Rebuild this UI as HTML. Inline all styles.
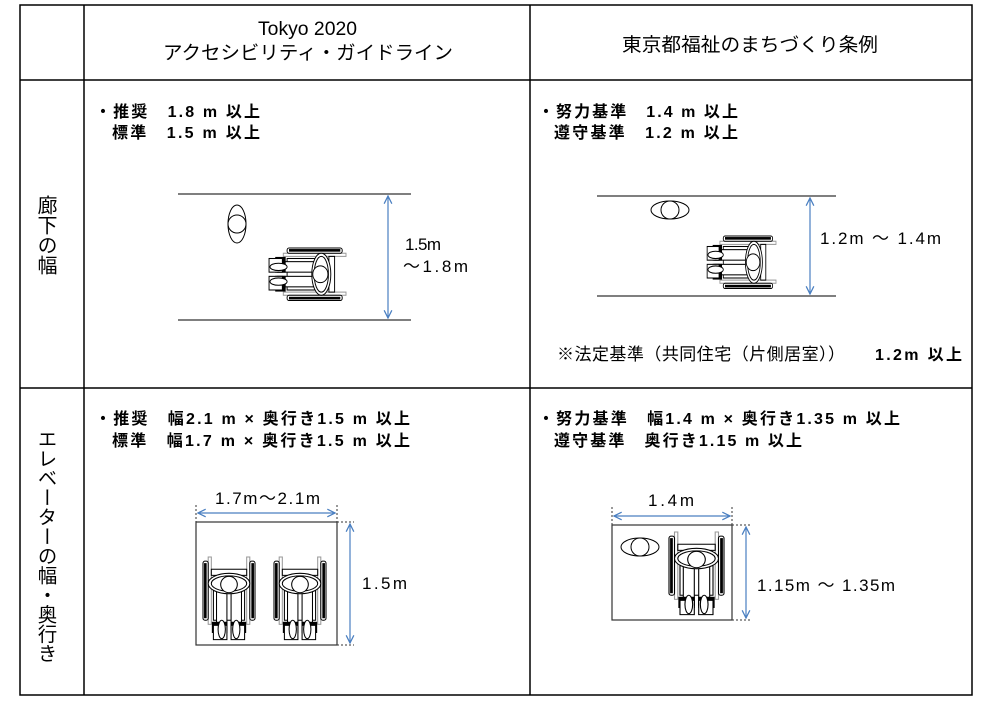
<!DOCTYPE html>
<html><head><meta charset="utf-8"><style>
html,body{margin:0;padding:0;background:#fff;}
svg{display:block;}
text{font-family:"Liberation Sans","Noto Sans CJK JP",sans-serif;fill:#000;}
.b{font-weight:bold;font-size:16px;}
.n{font-size:17px;}
</style></head><body>
<svg width="1000" height="708" viewBox="0 0 1000 708" xmlns="http://www.w3.org/2000/svg">
<defs>
<marker id="ar" viewBox="0 0 10 10" refX="9" refY="5" markerWidth="8" markerHeight="8" orient="auto-start-reverse">
<path d="M1,1 L9,5 L1,9" fill="none" stroke="#4a7fc1" stroke-width="1.3"/></marker>
<g id="wc" stroke="#000" fill="#fff" stroke-width="1">
<rect x="5" y="0" width="3" height="66" fill="#fff" stroke="#999"/>
<rect x="42" y="0" width="3" height="66" fill="#fff" stroke="#999"/>
<rect x="0" y="4" width="5" height="58" rx="2" fill="#fff"/>
<rect x="1" y="6" width="2.5" height="54" fill="#000" stroke="none"/>
<rect x="45" y="4" width="5" height="58" rx="2" fill="#fff"/>
<rect x="46.5" y="6" width="2.5" height="54" fill="#000" stroke="none"/>
<rect x="8" y="12" width="34" height="6"/>
<rect x="10" y="30" width="30" height="32"/>
<rect x="13" y="34" width="10" height="38"/>
<rect x="27" y="34" width="10" height="38"/>
<rect x="9" y="64" width="14" height="10" fill="#000"/>
<rect x="27" y="64" width="14" height="10" fill="#000"/>
<rect x="10" y="67" width="13" height="14"/>
<rect x="27" y="67" width="13" height="14"/>
<ellipse cx="18" cy="71" rx="3.5" ry="9"/>
<ellipse cx="32" cy="71" rx="3.5" ry="9"/>
<ellipse cx="25" cy="26" rx="20" ry="10"/>
<ellipse cx="25" cy="26" rx="17" ry="7.5"/>
<circle cx="25" cy="27" r="8"/>
</g>
<g id="ps" stroke="#000" fill="#fff" stroke-width="1">
<ellipse cx="0" cy="0" rx="9" ry="19"/>
<circle cx="0" cy="0" r="9"/>
</g>
</defs>
<g stroke="#000" stroke-width="1.5" fill="none">
<rect x="20" y="5" width="952" height="690"/>
<line x1="84" y1="5" x2="84" y2="695"/>
<line x1="530" y1="5" x2="530" y2="695"/>
<line x1="20" y1="80" x2="972" y2="80"/>
<line x1="20" y1="388" x2="972" y2="388"/>
</g>
<text x="258" y="35" font-size="19" textLength="99" lengthAdjust="spacingAndGlyphs">Tokyo 2020</text>
<text x="163" y="59" font-size="19" textLength="290" lengthAdjust="spacingAndGlyphs">アクセシビリティ・ガイドライン</text>
<text x="622" y="51" font-size="19" textLength="256" lengthAdjust="spacingAndGlyphs">東京都福祉のまちづくり条例</text>
<text x="45" y="195" font-size="20" style="writing-mode:vertical-rl">廊下の幅</text>
<text x="45" y="429" font-size="19.5" style="writing-mode:vertical-rl">エレベーターの幅・奥行き</text>

<text class="b" x="95" y="117" textLength="165" lengthAdjust="spacing">・推奨　1.8 m 以上</text>
<text class="b" x="112" y="138" textLength="148" lengthAdjust="spacing">標準　1.5 m 以上</text>
<g stroke="#333" stroke-width="1.3"><line x1="178" y1="194" x2="411" y2="194"/><line x1="178" y1="320" x2="411" y2="320"/></g>
<line x1="388" y1="196" x2="388" y2="318" stroke="#4a7fc1" stroke-width="1.2" marker-start="url(#ar)" marker-end="url(#ar)"/>
<text class="n" x="405" y="250" textLength="36" lengthAdjust="spacing">1.5m</text>
<text class="n" x="403" y="272" textLength="65" lengthAdjust="spacing">～1.8m</text>
<use href="#ps" transform="translate(237,224)"/>
<use href="#wc" transform="translate(346,248) rotate(90) scale(1.05,0.95)"/>

<text class="b" x="538" y="117" textLength="200" lengthAdjust="spacing">・努力基準　1.4 m 以上</text>
<text class="b" x="554" y="138" textLength="184" lengthAdjust="spacing">遵守基準　1.2 m 以上</text>
<g stroke="#333" stroke-width="1.3"><line x1="597" y1="196" x2="836" y2="196"/><line x1="597" y1="296" x2="836" y2="296"/></g>
<line x1="810" y1="198" x2="810" y2="294" stroke="#4a7fc1" stroke-width="1.2" marker-start="url(#ar)" marker-end="url(#ar)"/>
<text class="n" x="820" y="244" textLength="121" lengthAdjust="spacing">1.2m ～ 1.4m</text>
<use href="#ps" transform="translate(670,210) rotate(90)"/>
<use href="#wc" transform="translate(776,236) rotate(90) scale(1.05,0.85)"/>
<text x="557" y="360" font-size="17" textLength="288" lengthAdjust="spacing">※法定基準（共同住宅（片側居室））</text>
<text class="b" x="875" y="360" textLength="87" lengthAdjust="spacing">1.2m 以上</text>

<text class="b" x="95" y="424" textLength="315" lengthAdjust="spacing">・推奨　幅2.1 m × 奥行き1.5 m 以上</text>
<text class="b" x="112" y="446" textLength="298" lengthAdjust="spacing">標準　幅1.7 m × 奥行き1.5 m 以上</text>
<rect x="196" y="522" width="141" height="123" fill="none" stroke="#333" stroke-width="1.2"/>
<g stroke="#333" stroke-dasharray="2,2" stroke-width="1"><line x1="196" y1="505" x2="196" y2="522"/><line x1="337" y1="505" x2="337" y2="522"/><line x1="337" y1="522" x2="354" y2="522"/><line x1="337" y1="645" x2="354" y2="645"/></g>
<line x1="198" y1="513" x2="335" y2="513" stroke="#4a7fc1" stroke-width="1.2" marker-start="url(#ar)" marker-end="url(#ar)"/>
<line x1="350" y1="524" x2="350" y2="643" stroke="#4a7fc1" stroke-width="1.2" marker-start="url(#ar)" marker-end="url(#ar)"/>
<text class="n" x="215" y="504" textLength="105" lengthAdjust="spacing">1.7m～2.1m</text>
<text class="n" x="362" y="589" textLength="45" lengthAdjust="spacing">1.5m</text>
<use href="#wc" transform="translate(203,557) scale(1.04,1.02)"/>
<use href="#wc" transform="translate(274,557) scale(1.04,1.02)"/>

<text class="b" x="538" y="424" textLength="362" lengthAdjust="spacing">・努力基準　幅1.4 m × 奥行き1.35 m 以上</text>
<text class="b" x="554" y="446" textLength="248" lengthAdjust="spacing">遵守基準　奥行き1.15 m 以上</text>
<rect x="612" y="525" width="120" height="95" fill="none" stroke="#333" stroke-width="1.2"/>
<g stroke="#333" stroke-dasharray="2,2" stroke-width="1"><line x1="612" y1="507" x2="612" y2="525"/><line x1="732" y1="507" x2="732" y2="525"/><line x1="732" y1="525" x2="750" y2="525"/><line x1="732" y1="620" x2="750" y2="620"/></g>
<line x1="614" y1="516" x2="730" y2="516" stroke="#4a7fc1" stroke-width="1.2" marker-start="url(#ar)" marker-end="url(#ar)"/>
<line x1="746" y1="527" x2="746" y2="618" stroke="#4a7fc1" stroke-width="1.2" marker-start="url(#ar)" marker-end="url(#ar)"/>
<text class="n" x="648" y="506" textLength="46" lengthAdjust="spacing">1.4m</text>
<text class="n" x="757" y="591" textLength="138" lengthAdjust="spacing">1.15m ～ 1.35m</text>
<use href="#ps" transform="translate(640,547) rotate(90)"/>
<use href="#wc" transform="translate(669,532) scale(1.1,1.02)"/>
</svg>
</body></html>
